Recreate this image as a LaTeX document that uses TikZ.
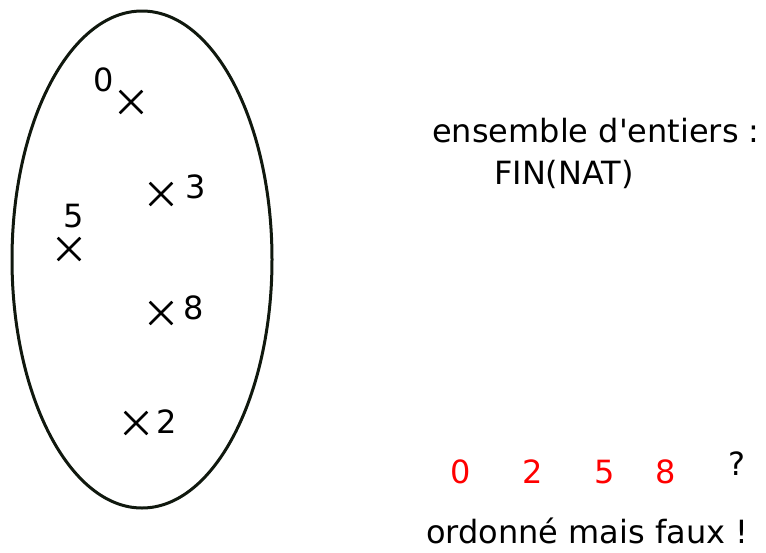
\documentclass[tikz,border=0pt]{standalone}
\usepackage{fontspec}
\setmainfont{DejaVu Sans}[Ligatures=TeXOff]
\usetikzlibrary{shapes.misc}
\definecolor{outline}{RGB}{16,24,14}
\begin{document}
\begin{tikzpicture}[x=1pt,y=-1pt,
  txt/.style={inner sep=0pt,font=\fontsize{32}{38}\selectfont},
  pt/.style={cross out,draw=black,line width=2.6pt,minimum size=20pt,inner sep=0pt},
  red/.style={txt,text={rgb,255:red,255;green,0;blue,0}}]
\useasboundingbox (0,0) rectangle (766,552);
\draw[outline,line width=3pt] (142,259.5) ellipse [x radius=130, y radius=248.5];
\node[pt] (x0) at (131,102) {};
\node[pt] (x3) at (161,194) {};
\node[pt] (x5) at (69,249) {};
\node[pt] (x8) at (161,313) {};
\node[pt] (x2) at (136,423) {};
\node[txt,anchor=base] (l0) at (103.5,91) {0};
\node[txt,anchor=base] (l3) at (196,198.5) {3};
\node[txt,anchor=base] (l5) at (74,227) {5};
\node[txt,anchor=base] (l8) at (194,319) {8};
\node[txt,anchor=base] (l2) at (166.5,433) {2};
\node[txt,anchor=base west] (t1) at (432,142) {ensemble d\char"0027 entiers :};
\node[txt,anchor=base west] (t2) at (494,184) {FIN(NAT)};
\node[red,anchor=base] (r0) at (460.5,483) {0};
\node[red,anchor=base] (r2) at (532.5,483) {2};
\node[red,anchor=base] (r5) at (604.5,483) {5};
\node[red,anchor=base] (r8) at (665.5,483) {8};
\node[txt,anchor=base] (q) at (736.5,475) {?};
\node[txt,anchor=base west] (t3) at (426,543) {ordonné mais faux !};
\end{tikzpicture}
\end{document}
